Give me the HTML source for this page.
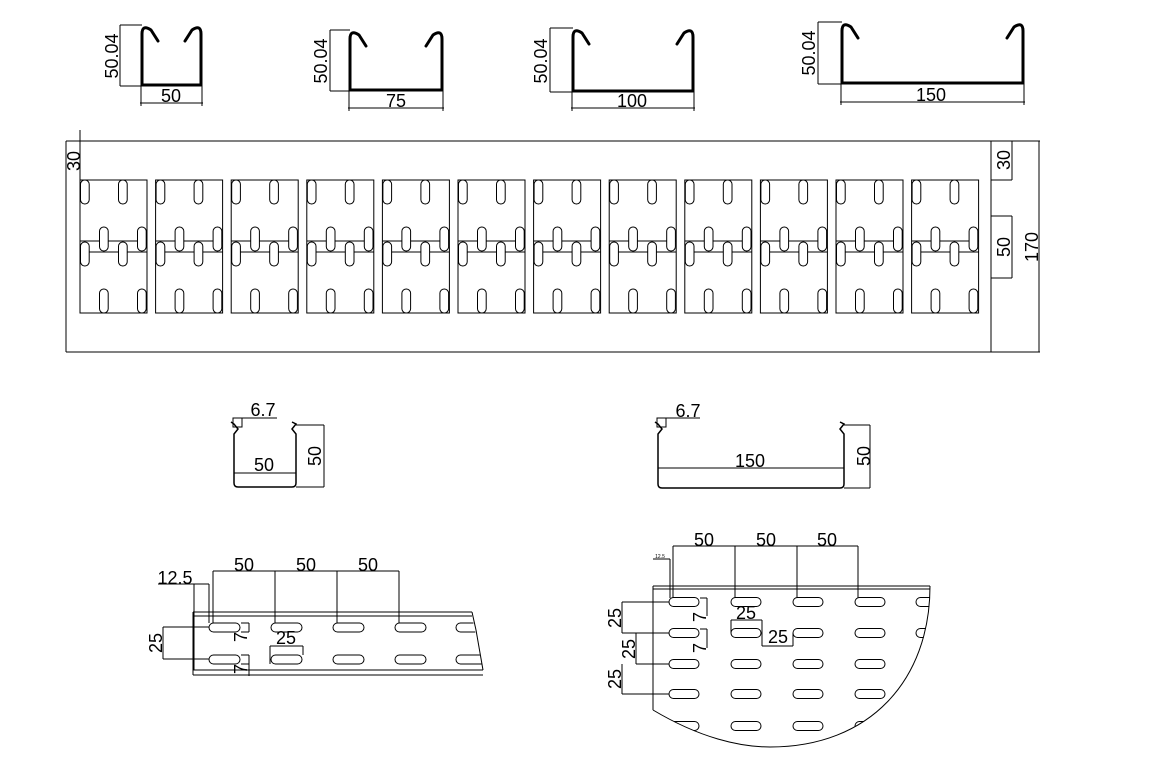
<!DOCTYPE html>
<html><head><meta charset="utf-8">
<style>
html,body{margin:0;padding:0;background:#fff;}
svg{display:block;font-family:"Liberation Sans",sans-serif;}
text{font-size:18px;fill:#000;}
</style></head>
<body>
<svg id="s" width="1164" height="776" viewBox="0 0 1164 776" xmlns="http://www.w3.org/2000/svg">
<defs>
<clipPath id="arc"><path d="M653,589 L930,589 C930,680 870,747 770,747 C740,747 700,738 653,710 Z"/></clipPath>
<clipPath id="strip"><path d="M193,616 L472,616 L483,670 L193,670 Z"/></clipPath>
</defs>
<g id="g" fill="none" stroke="#000" stroke-width="1"></g>

<text x="171" y="102" text-anchor="middle">50</text>
<text transform="translate(118,56) rotate(-90)" text-anchor="middle">50.04</text>
<text x="396" y="107" text-anchor="middle">75</text>
<text transform="translate(327,61) rotate(-90)" text-anchor="middle">50.04</text>
<text x="632" y="107" text-anchor="middle">100</text>
<text transform="translate(547,61) rotate(-90)" text-anchor="middle">50.04</text>
<text x="931" y="101" text-anchor="middle">150</text>
<text transform="translate(815,53) rotate(-90)" text-anchor="middle">50.04</text>

<text transform="translate(80,161) rotate(-90)" text-anchor="middle">30</text>
<text transform="translate(1010,160) rotate(-90)" text-anchor="middle">30</text>
<text transform="translate(1010,247) rotate(-90)" text-anchor="middle">50</text>
<text transform="translate(1038,247) rotate(-90)" text-anchor="middle">170</text>

<text x="263" y="416" text-anchor="middle">6.7</text>
<text x="264" y="471" text-anchor="middle">50</text>
<text transform="translate(321,456) rotate(-90)" text-anchor="middle">50</text>
<text x="688" y="417" text-anchor="middle">6.7</text>
<text x="750" y="467" text-anchor="middle">150</text>
<text transform="translate(870,456) rotate(-90)" text-anchor="middle">50</text>

<text x="244" y="571" text-anchor="middle">50</text>
<text x="306" y="571" text-anchor="middle">50</text>
<text x="368" y="571" text-anchor="middle">50</text>
<text x="175" y="584" text-anchor="middle">12.5</text>
<text transform="translate(162,643) rotate(-90)" text-anchor="middle">25</text>
<text x="286" y="644" text-anchor="middle">25</text>
<text transform="translate(247,637) rotate(-90)" text-anchor="middle">7</text>
<text transform="translate(247,669) rotate(-90)" text-anchor="middle">7</text>

<text x="704" y="546" text-anchor="middle">50</text>
<text x="766" y="546" text-anchor="middle">50</text>
<text x="827" y="546" text-anchor="middle">50</text>
<text x="660" y="558" text-anchor="middle" style="font-size:5px">12.5</text>
<text transform="translate(621,618) rotate(-90)" text-anchor="middle">25</text>
<text transform="translate(635,649) rotate(-90)" text-anchor="middle">25</text>
<text transform="translate(621,679) rotate(-90)" text-anchor="middle">25</text>
<text transform="translate(706,617) rotate(-90)" text-anchor="middle">7</text>
<text transform="translate(706,648) rotate(-90)" text-anchor="middle">7</text>
<text x="746" y="619" text-anchor="middle">25</text>
<text x="778" y="643" text-anchor="middle">25</text>
</svg>
<script>
var g=document.getElementById('g'),h='';
function L(x1,y1,x2,y2){h+='<line x1="'+x1+'" y1="'+y1+'" x2="'+x2+'" y2="'+y2+'"/>';}
function R(x,y,w,hh,rx,extra){h+='<rect x="'+x+'" y="'+y+'" width="'+w+'" height="'+hh+'" rx="'+(rx||0)+'" '+(extra||'')+'/>';}
function P(d,extra){h+='<path d="'+d+'" '+(extra||'')+'/>';}
function U(xl,xr,yt,yb,dimx,dimy){
 P('M'+(xl+16)+','+(yt+14)+' L'+(xl+9)+','+(yt+3)+' Q'+xl+','+(yt-3)+' '+xl+','+(yt+7)+' L'+xl+','+yb+' L'+xr+','+yb+' L'+xr+','+(yt+7)+' Q'+xr+','+(yt-3)+' '+(xr-9)+','+(yt+3)+' L'+(xr-16)+','+(yt+14),'stroke-width="3" stroke-linejoin="round" stroke-linecap="round"');
 L(dimx,yt-2,dimx,yb+1);L(dimx,yt-2,xl,yt-2);L(dimx,yb+1,xl,yb+1);
 L(xl-2,dimy,xr+2,dimy);L(xl-1,yb,xl-1,dimy+3);L(xr+1,yb,xr+1,dimy+3);
}
U(142,201,27,85,120,103);
U(350,442,32,90,330,108);
U(573,693,30,91,550,108);
U(842,1023,24,83,818,102);
L(66,141,1040,141);L(66,352,1040,352);L(66,141,66,352);L(991,141,991,352);
L(1039,141,1039,352);
L(1012,141,1012,180);L(991,180,1012,180);
L(1012,216,1012,278);L(991,216,1012,216);L(991,278,1012,278);
L(80,130,80,180);
for(var i=0;i<12;i++){
 var x=80+i*75.6;
 R(x,180,67,133);
 L(x,241,x+67,241);L(x,252,x+67,252);
 var sl=[[0,180],[38,180],[19,227],[57,227],[0,242],[38,242],[19,289],[57,289]];
 sl.forEach(function(s){R(x+s[0]+0.5,s[1],8.7,24,4.3,'fill="#fff"');});
 L(x,241,x+9,241);
}
function C(xl,xr,yt,yb,ym,dx,bx){
 var n='L'+xl+','+(yt+6)+' L'+(xl+4)+','+(yt+11)+' L'+xl+','+(yt+16);
 P('M'+(xl-3)+','+(yt+4)+' '+n+' L'+xl+','+(yb-4)+' Q'+xl+','+yb+' '+(xl+4)+','+yb+' L'+(xr-4)+','+yb+' Q'+xr+','+yb+' '+xr+','+(yb-4)+' L'+xr+','+(yt+16)+' L'+(xr-4)+','+(yt+11)+' L'+xr+','+(yt+6)+' L'+(xr-4)+','+(yt+4),'stroke-width="1.5"');
 L(xl,ym,xr,ym);
 L(xl-1,yt,bx,yt);R(xl-1,yt,9,9);
 L(dx,yt+7,dx,yb);L(xr,yt+7,dx,yt+7);L(xr,yb,dx,yb);
}
C(234,296,418,487,473,324,277);
C(658,844,418,488,468,870,700);
L(193,612,472,612);L(193,616,472,616);L(193,670,483,670);L(193,675,483,675);
L(193,612,193,675);L(472,612,476,630);L(476,630,483,670);
var sh='';
[627.5,659.5].forEach(function(y){[209,271,333,395,456].forEach(function(x){sh+='<rect x="'+x+'" y="'+(y-4.5)+'" width="31" height="9" rx="4.5"/>';});});
h+='<g clip-path="url(#strip)">'+sh+'</g>';
L(213,571,399,571);[213,275,337,399].forEach(function(x){L(x,571,x,623);});
L(158,584,209,584);L(194,584,194,670);L(209,584,209,623);
L(163,627,163,659);L(163,627,209,627);L(163,659,209,659);
L(249,623,249,632);L(241,623,249,623);L(241,632,249,632);
L(249,655,249,664);L(241,655,249,655);L(241,664,249,664);
L(249,664,249,676);
L(270,646,303,646);L(270,646,270,664);L(303,646,303,655);
L(653,586,930,586);L(653,589,930,589);L(653,586,653,710);
P('M653,710 C700,738 740,747 770,747 C870,747 930,680 930,586');
var s2='';
[602,633,664,694,726].forEach(function(y){[669,731,793,855,916].forEach(function(x){s2+='<rect x="'+x+'" y="'+(y-4.5)+'" width="30" height="9" rx="4.5"/>';});});
h+='<g clip-path="url(#arc)">'+s2+'</g>';
L(673,546,858,546);[673,735,797,858].forEach(function(x){L(x,546,x,598);});
L(653,559,670,559);L(670,559,670,598);
L(622,602,622,633);L(622,602,669,602);L(622,633,669,633);
L(636,633,636,664);L(636,664,669,664);
L(622,664,622,694);L(622,694,669,694);
L(707,598,707,607);L(700,598,707,598);L(707,629,707,638);L(700,629,707,629);L(707,607,707,616);L(707,638,707,648);
L(731,620,762,620);L(731,620,731,633);L(762,620,762,646);L(762,646,793,646);L(793,633,793,646);
g.innerHTML=h;
</script>
</body></html>
